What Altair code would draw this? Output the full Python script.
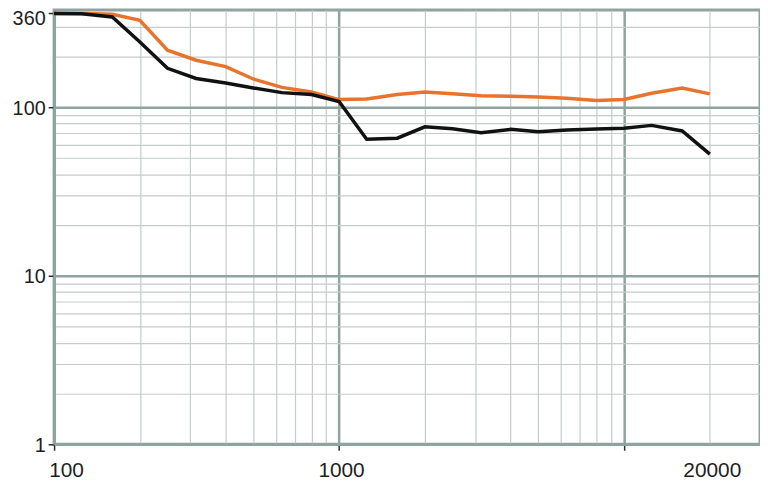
import altair as alt
import pandas as pd

# 1/3-octave frequencies (Hz)
freqs = [100, 125, 160, 200, 250, 315, 400, 500, 630, 800, 1000, 1250, 1600,
         2000, 2500, 3150, 4000, 5000, 6300, 8000, 10000, 12500, 16000, 20000]
black_vals = [360, 358, 343, 244, 170, 148, 139, 130, 122, 119, 108, 64.6, 65.5,
              76.5, 74.5, 70.6, 73.9, 71.6, 73.2, 74.2, 75.0, 78.0, 72.3, 52.7]
orange_vals = [360, 360, 356, 328, 218, 190, 174, 147, 131, 123, 111, 112, 119,
               123, 120, 117, 116, 115, 113, 109.5, 111, 121, 130, 120]

x_grid = [100, 200, 300, 400, 500, 600, 700, 800, 900,
          1000, 2000, 3000, 4000, 5000, 6000, 7000, 8000, 9000,
          10000, 20000]
y_grid = [1, 2, 3, 4, 5, 6, 7, 8, 9,
          10, 20, 30, 40, 50, 60, 70, 80, 90,
          100, 200, 300, 360]

x_domain = [100, 30000]
y_domain = [1, 377]

MAJOR = "#8fa39f"
MINOR = "#c3cdcb"
TICK = "#2a2a2a"

df_orange = pd.DataFrame({"f": freqs, "v": orange_vals})
df_black = pd.DataFrame({"f": freqs, "v": black_vals})

x_major = "datum.value == 100 || datum.value == 1000 || datum.value == 10000"
y_major = "datum.value == 1 || datum.value == 10 || datum.value == 100"

x_axis = alt.Axis(
    values=x_grid,
    title=None,
    grid=True,
    labelExpr="datum.value == 100 || datum.value == 1000 || datum.value == 20000 ? format(datum.value, 'd') : ''",
    labelFlush=False,
    labelOverlap=False,
    labelFontSize=21,
    labelOffset={"condition": {"test": "datum.value == 100", "value": 12}, "value": 2},
    labelPadding=9,
    tickSize=6,
    tickWidth=1.5,
    tickColor={"condition": {"test": x_major, "value": TICK}, "value": "transparent"},
    gridColor={"condition": {"test": x_major, "value": MAJOR}, "value": MINOR},
    gridWidth={"condition": {"test": x_major, "value": 2.5}, "value": 1.2},
)

y_axis = alt.Axis(
    values=y_grid,
    title=None,
    grid=True,
    labelExpr="datum.value == 1 || datum.value == 10 || datum.value == 100 || datum.value == 360 ? format(datum.value, 'd') : ''",
    labelOverlap=False,
    labelFlush=False,
    labelFontSize=20,
    labelPadding=3,
    labelOffset={"condition": {"test": "datum.value == 360", "value": 5}, "value": 1},
    tickSize=6,
    tickWidth=1.5,
    tickColor={"condition": {"test": y_major + " || datum.value == 360", "value": TICK}, "value": "transparent"},
    gridColor={"condition": [{"test": "datum.value == 360", "value": "transparent"},
                             {"test": y_major, "value": MAJOR}],
               "value": MINOR},
    gridWidth={"condition": {"test": y_major, "value": 2.5}, "value": 1.2},
)

x_enc = alt.X("f:Q", scale=alt.Scale(type="log", domain=x_domain, nice=False), axis=x_axis)
y_enc = alt.Y("v:Q", scale=alt.Scale(type="log", domain=y_domain, nice=False, zero=False), axis=y_axis)

orange = alt.Chart(df_orange).mark_line(color="#e8732c", strokeWidth=3.5).encode(x=x_enc, y=y_enc)
black = alt.Chart(df_black).mark_line(color="#111111", strokeWidth=3.5).encode(x=x_enc, y=y_enc)

chart = (
    alt.layer(orange, black)
    .properties(
        width=712,
        height=438,
        autosize=alt.AutoSizeParams(type="none"),
        padding={"left": 46.5, "top": 0, "right": 0, "bottom": 40},
        background="white",
    )
    .configure_axis(
        labelFont="Liberation Sans",
        labelColor="#1e1e1e",
        domainColor=MAJOR,
        domainWidth=2.5,
    )
    .configure_view(stroke=MAJOR, strokeWidth=3)
)

chart.save("out.html", embed_options={"renderer": "svg", "actions": False})
